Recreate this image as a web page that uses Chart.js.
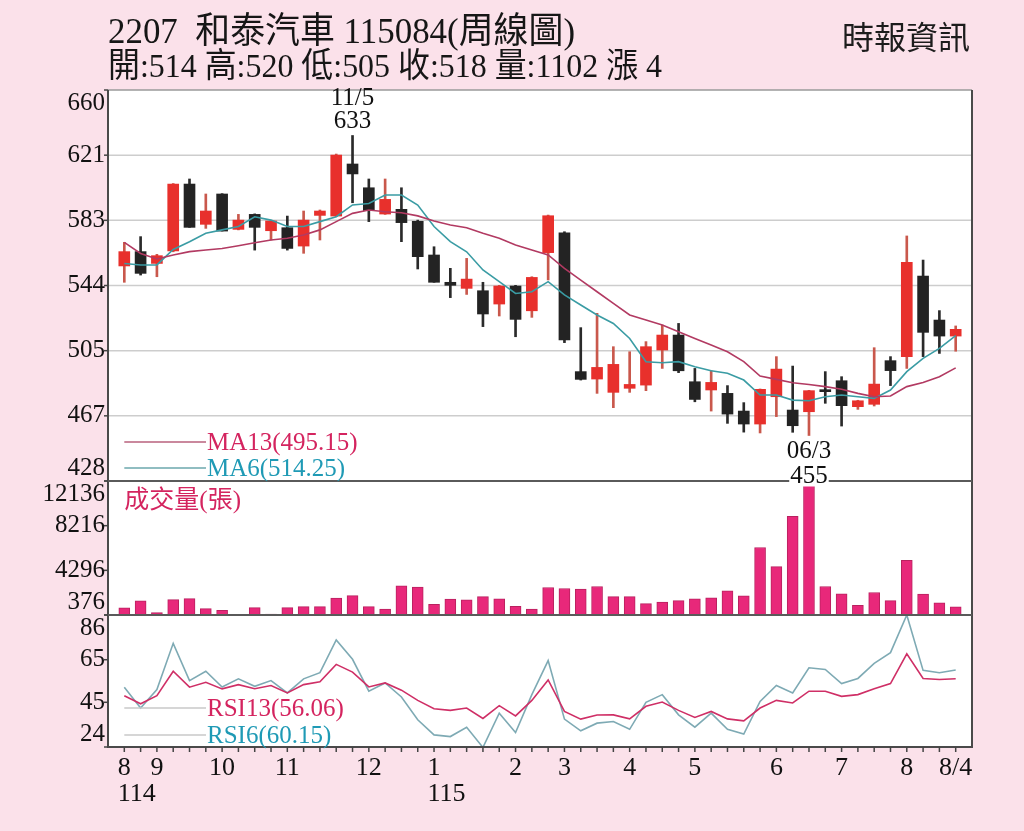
<!DOCTYPE html>
<html>
<head>
<meta charset="utf-8">
<script src="https://cdn.jsdelivr.net/npm/chart.js@4.4.1/dist/chart.umd.min.js"></script>
<style>
  html, body { margin: 0; padding: 0; background: #fbe1ea; overflow: hidden; }
  canvas { display: block; }
</style>
</head>
<body>
<canvas id="chart" width="1024" height="831"></canvas>
<script>
// 2207 weekly candles (114/8 .. 115/8/4)
const opens  = [555.6, 564.1, 557.1, 564.5, 604.2, 580.3, 598.3, 577.3, 586.2, 576.5, 578.3, 567.4, 585.6, 585.2, 616.1, 602.0, 586.4, 589.2, 582.1, 562.1, 545.9, 542.3, 540.9, 533.0, 543.7, 529.0, 563.5, 575.3, 492.9, 488.5, 480.6, 483.0, 484.9, 505.7, 514.6, 486.9, 482.0, 480.0, 469.5, 461.8, 478.0, 470.1, 469.1, 482.0, 487.5, 472.1, 473.5, 499.4, 501.8, 549.6, 523.5, 514];
const highs  = [569.6, 573.0, 562.5, 604.5, 607.2, 598.3, 598.5, 586.2, 586.5, 582.5, 585.2, 588.2, 588.8, 622.0, 633.0, 607.2, 607.2, 602.0, 582.8, 567.0, 554.2, 560.1, 545.9, 544.1, 544.1, 549.2, 585.8, 575.9, 519.0, 527.5, 507.7, 504.7, 510.7, 520.5, 521.5, 494.8, 493.5, 484.6, 474.5, 482.6, 501.8, 496.2, 481.8, 492.9, 489.9, 475.9, 507.1, 501.8, 573.4, 559.1, 529.1, 520];
const lows   = [545.9, 550.2, 549.2, 564.0, 578.5, 577.9, 576.3, 577.0, 565.0, 571.0, 565.0, 563.1, 571.0, 584.8, 593.1, 581.9, 586.2, 570.0, 553.8, 545.9, 536.8, 538.7, 519.6, 525.9, 513.6, 525.1, 547.3, 510.1, 487.9, 480.0, 471.5, 480.6, 481.6, 494.8, 492.3, 475.0, 469.5, 462.2, 457.0, 456.5, 466.2, 456.9, 455.0, 474.1, 460.6, 470.5, 472.5, 484.6, 494.8, 501.8, 503.7, 505];
const closes = [564.1, 551.2, 561.7, 604.2, 578.5, 588.2, 576.3, 582.8, 578.5, 582.3, 566.0, 582.8, 588.2, 621.4, 610.2, 588.4, 595.1, 581.3, 561.1, 545.9, 544.1, 547.8, 527.1, 543.7, 523.9, 548.8, 585.4, 511.7, 488.3, 495.4, 497.2, 485.3, 507.7, 514.6, 493.4, 476.4, 486.5, 467.7, 461.8, 482.4, 494.4, 460.8, 481.6, 481.0, 472.7, 475.6, 485.5, 493.5, 557.7, 516.2, 514.0, 518];

const ma13 = [569.6, 563.0, 559.7, 562.1, 564.1, 565.1, 566.0, 567.6, 569.4, 571.0, 572.0, 574.0, 577.0, 581.9, 586.8, 588.8, 587.8, 587.2, 585.3, 582.3, 579.9, 578.3, 575.0, 572.0, 568.0, 565.0, 562.1, 554.2, 547.2, 540.3, 533.4, 526.5, 523.5, 520.5, 516.6, 512.6, 508.7, 504.7, 498.8, 490.3, 488.3, 486.3, 485.3, 484.0, 482.4, 480.0, 478.0, 478.4, 484.0, 486.5, 489.9, 495.15];
const ma6  = [557.1, 556.2, 556.2, 565.4, 570.0, 575.0, 577.0, 579.0, 584.8, 582.8, 579.0, 579.0, 581.9, 584.8, 591.8, 592.7, 597.7, 597.7, 591.7, 579.0, 570.0, 564.0, 553.2, 546.3, 539.3, 540.3, 546.3, 538.4, 532.4, 526.5, 521.5, 512.6, 498.8, 498.2, 498.8, 495.8, 493.4, 491.9, 487.9, 479.0, 479.0, 476.0, 475.6, 478.0, 479.0, 478.0, 477.0, 482.0, 492.9, 500.8, 506.7, 514.25];

const volumes = [995, 1614, 579, 1729, 1817, 933, 792, 400, 1021, 464, 1021, 1110, 1110, 1852, 2082, 1110, 906, 2940, 2825, 1322, 1764, 1702, 1994, 1790, 1145, 906, 2789, 2701, 2648, 2878, 1994, 1994, 1375, 1499, 1640, 1790, 1879, 2498, 2056, 6299, 4619, 9039, 12136, 2878, 2232, 1233, 2347, 1640, 5176, 2206, 1437, 1102];

const rsi13 = [48.1, 44.3, 48.1, 59.6, 52.1, 54.4, 51.3, 53.3, 51.4, 52.9, 49.4, 53.3, 54.6, 62.8, 59.2, 52.2, 54.1, 50.7, 45.9, 42.0, 41.2, 42.3, 37.4, 43.4, 38.6, 45.9, 55.5, 40.7, 37.1, 39.0, 39.1, 37.2, 43.1, 45.1, 41.2, 37.9, 40.7, 37.2, 36.3, 42.3, 45.9, 44.7, 50.2, 50.2, 47.8, 48.6, 51.4, 53.8, 67.8, 56.2, 55.7, 56.06];
const rsi6  = [52.1, 42.3, 51.0, 72.7, 55.2, 59.6, 52.2, 56.0, 52.5, 55.2, 49.4, 56.0, 58.9, 74.3, 65.2, 50.2, 54.1, 47.5, 36.8, 29.7, 28.9, 33.3, 23.8, 39.9, 30.8, 48.6, 64.6, 37.1, 31.6, 35.2, 36.0, 32.3, 45.0, 48.6, 39.1, 33.3, 39.9, 32.3, 30.1, 45.4, 52.9, 49.4, 61.2, 60.4, 53.8, 56.2, 63.3, 68.3, 86.0, 60.0, 58.9, 60.15];

// axis ticks
const priceTicks  = [428, 466.67, 505.33, 544, 582.67, 621.33, 660];
const priceLabels = ['428', '467', '505', '544', '583', '621', '660'];
const volTicks    = [376, 4296, 8216, 12136];
const rsiTicks    = [24, 45, 65, 86];
const monthAt     = [0, 2, 6, 10, 15, 19, 24, 27, 31, 35, 40, 44, 48, 51];
const monthLabels = ['8', '9', '10', '11', '12', '1', '2', '3', '4', '5', '6', '7', '8', '8/4'];
const yearAt      = [0, 19];
const yearLabels  = ['114', '115'];

const serif = "'Liberation Serif', 'Noto Sans CJK TC', serif";
const RED = '#e8302c', BLACK = '#232323';

const idx = closes.map((_, i) => i);
const isUp = idx.map(i => closes[i] >= opens[i]);
const pts = arr => arr.map((v, i) => ({ x: i, y: v }));

function fitText(ctx, text, x, y, width, font, color) {
    ctx.save();
    ctx.font = font;
    const w = ctx.measureText(text).width;
    ctx.translate(x, y);
    ctx.scale(width / w, 1);
    ctx.fillStyle = color;
    ctx.textAlign = 'left';
    ctx.textBaseline = 'alphabetic';
    ctx.fillText(text, 0, 0);
    ctx.restore();
}

// text on a white patch (legend labels hide what is under them)
function boxText(ctx, text, x, y, color, font, align) {
    ctx.font = font;
    const w = ctx.measureText(text).width;
    const left = align === 'center' ? x - w / 2 : x;
    ctx.fillStyle = '#fff';
    ctx.fillRect(left - 1, y - 11, w + 2, 22);
    ctx.fillStyle = color;
    ctx.textAlign = 'left';
    ctx.textBaseline = 'middle';
    ctx.fillText(text, left, y + 1);
}

function yAxisLabels(ctx, scale, ticks, labels, left) {
    ticks.forEach((v, k) => {
        const py = scale.getPixelForValue(v);
        ctx.strokeStyle = '#444';
        ctx.lineWidth = 1.5;
        ctx.beginPath(); ctx.moveTo(left - 4, py); ctx.lineTo(left, py); ctx.stroke();
        // edge labels are pushed inside their panel
        const ly = Math.min(Math.max(py, scale.top + 13), scale.bottom - 13);
        ctx.fillStyle = '#111';
        ctx.font = '25px ' + serif;
        ctx.textAlign = 'right';
        ctx.textBaseline = 'middle';
        ctx.fillText(labels ? labels[k] : String(v), left - 3, ly);
    });
}

const decor = {
    id: 'decor',
    beforeDraw(chart) {
        const { ctx, chartArea: a } = chart;
        ctx.save();
        ctx.fillStyle = '#fbe1ea';
        ctx.fillRect(0, 0, chart.width, chart.height);
        ctx.fillStyle = '#fff';
        ctx.fillRect(a.left, a.top, a.right - a.left, a.bottom - a.top);
        const y = chart.scales.y;
        ctx.strokeStyle = '#cdcdcd';
        ctx.lineWidth = 1.5;
        priceTicks.slice(1, -1).forEach(v => {
            const py = y.getPixelForValue(v);
            ctx.beginPath(); ctx.moveTo(a.left, py); ctx.lineTo(a.right, py); ctx.stroke();
        });
        ctx.restore();
    },
    afterDatasetsDraw(chart) {
        const { ctx, chartArea: a, scales } = chart;
        const x = scales.x, y = scales.y, v = scales.yVol, r = scales.yRsi;
        ctx.save();

        // frame and panel separators
        ctx.strokeStyle = '#9a9a9a';
        ctx.lineWidth = 1.5;
        ctx.beginPath(); ctx.moveTo(a.left, a.top); ctx.lineTo(a.right, a.top); ctx.stroke();
        ctx.strokeStyle = '#4a4a4a';
        ctx.lineWidth = 2;
        ctx.beginPath();
        ctx.moveTo(a.left, a.top); ctx.lineTo(a.left, a.bottom); ctx.lineTo(a.right, a.bottom); ctx.lineTo(a.right, a.top);
        ctx.stroke();
        ctx.strokeStyle = '#5a5a5a';
        [v.top, r.top].forEach(py => {
            ctx.beginPath(); ctx.moveTo(a.left, py); ctx.lineTo(a.right, py); ctx.stroke();
        });

        // legend rows
        const legendX0 = x.getPixelForValue(0);
        const legendX1 = 207;
        const rows = [
            ['MA13(495.15)', '#d4245f', '#b8607c', y.bottom - 39],
            ['MA6(514.25)', '#1f9ab5', '#6ba7ad', y.bottom - 13],
            ['RSI13(56.06)', '#d4245f', '#c8c8c8', r.bottom - 39],
            ['RSI6(60.15)', '#1f9ab5', '#c8c8c8', r.bottom - 12]
        ];
        rows.forEach(([txt, col, lineCol, py]) => {
            ctx.strokeStyle = lineCol;
            ctx.lineWidth = 1.3;
            ctx.beginPath(); ctx.moveTo(legendX0, py); ctx.lineTo(legendX1, py); ctx.stroke();
            boxText(ctx, txt, legendX1, py, col, '25px ' + serif, 'left');
        });
        ctx.font = '25px ' + serif;
        ctx.fillStyle = '#d4245f';
        ctx.textAlign = 'left';
        ctx.textBaseline = 'middle';
        ctx.fillText('成交量(張)', legendX0, v.top + 20);

        // high / low notes
        const hiI = 14, loI = 42;
        const hx = x.getPixelForValue(hiI), hy = y.getPixelForValue(highs[hiI]);
        ctx.fillStyle = '#111';
        ctx.textAlign = 'center';
        ctx.textBaseline = 'middle';
        ctx.font = '25px ' + serif;
        ctx.fillText('633', hx, hy - 14);
        ctx.fillText('11/5', hx, hy - 37);
        const lx = x.getPixelForValue(loI), ly = y.getPixelForValue(lows[loI]);
        boxText(ctx, '06/3', lx, ly + 15, '#111', '25px ' + serif, 'center');
        boxText(ctx, '455', lx, ly + 40, '#111', '25px ' + serif, 'center');

        // y axes
        yAxisLabels(ctx, y, priceTicks, priceLabels, a.left);
        yAxisLabels(ctx, v, volTicks, null, a.left);
        yAxisLabels(ctx, r, rsiTicks, null, a.left);

        // x ticks and labels
        ctx.strokeStyle = '#444';
        ctx.lineWidth = 1.5;
        idx.forEach(i => {
            const px = x.getPixelForValue(i);
            ctx.beginPath(); ctx.moveTo(px, a.bottom); ctx.lineTo(px, a.bottom + 5); ctx.stroke();
        });
        ctx.fillStyle = '#111';
        ctx.font = '26px ' + serif;
        ctx.textBaseline = 'middle';
        ctx.textAlign = 'center';
        const monthLeft = {};
        monthAt.forEach((i, k) => {
            const px = x.getPixelForValue(i);
            ctx.fillText(monthLabels[k], px, a.bottom + 21);
            monthLeft[i] = px - ctx.measureText(monthLabels[k]).width / 2;
        });
        ctx.textAlign = 'left';
        yearAt.forEach((i, k) => ctx.fillText(yearLabels[k], monthLeft[i], a.bottom + 47));

        // title block
        fitText(ctx, '2207  和泰汽車 115084(周線圖)', 108, 43, 467, '36px ' + serif, '#161616');
        fitText(ctx, '開:514 高:520 低:505 收:518 量:1102 漲 4', 108, 77, 554, '34px ' + serif, '#161616');
        ctx.font = "32px 'Noto Sans CJK TC', sans-serif";
        ctx.fillStyle = '#1c1c1c';
        ctx.textAlign = 'right';
        ctx.textBaseline = 'middle';
        ctx.fillText('時報資訊', 970, 37);

        ctx.restore();
    }
};

new Chart(document.getElementById('chart'), {
    type: 'bar',
    data: {
        datasets: [
            { type: 'line', label: 'MA13', data: pts(ma13), yAxisID: 'y', borderColor: '#b23a62', borderWidth: 1.6, pointRadius: 0, order: 0 },
            { type: 'line', label: 'MA6', data: pts(ma6), yAxisID: 'y', borderColor: '#3a9ca4', borderWidth: 1.6, pointRadius: 0, order: 0 },
            {
                label: 'body', yAxisID: 'y', order: 1, grouped: false,
                data: idx.map(i => ({ x: i, y: [opens[i], closes[i]] })),
                backgroundColor: idx.map(i => isUp[i] ? RED : BLACK),
                barThickness: 11, minBarLength: 2
            },
            {
                label: 'wick', yAxisID: 'y', order: 2, grouped: false,
                data: idx.map(i => ({ x: i, y: [lows[i], highs[i]] })),
                backgroundColor: idx.map(i => isUp[i] ? '#c9584c' : '#2a2a2a'),
                barThickness: 2
            },
            {
                label: 'volume', yAxisID: 'yVol', order: 1, grouped: false,
                data: pts(volumes),
                backgroundColor: '#e8287a', borderColor: '#b9215f', borderWidth: 1,
                barThickness: 11
            },
            { type: 'line', label: 'RSI13', data: pts(rsi13), yAxisID: 'yRsi', borderColor: '#cf2f66', borderWidth: 1.6, pointRadius: 0, order: 0 },
            { type: 'line', label: 'RSI6', data: pts(rsi6), yAxisID: 'yRsi', borderColor: '#7eaab4', borderWidth: 1.6, pointRadius: 0, order: 0 }
        ]
    },
    options: {
        responsive: false,
        devicePixelRatio: 1,
        animation: false,
        events: [],
        layout: { padding: { left: 108, right: 52, top: 90, bottom: 84 } },
        plugins: { legend: { display: false }, tooltip: { enabled: false } },
        scales: {
            x: { type: 'linear', min: -1, max: 52, offset: false, display: false },
            y: { type: 'linear', min: 428, max: 660, position: 'right', stack: 'panels', stackWeight: 391, display: false },
            yVol: { type: 'linear', axis: 'y', min: 376, max: 12136, position: 'right', stack: 'panels', stackWeight: 134, display: false },
            yRsi: { type: 'linear', axis: 'y', min: 24, max: 86, position: 'right', stack: 'panels', stackWeight: 132, display: false }
        }
    },
    plugins: [decor]
});
</script>
</body>
</html>
